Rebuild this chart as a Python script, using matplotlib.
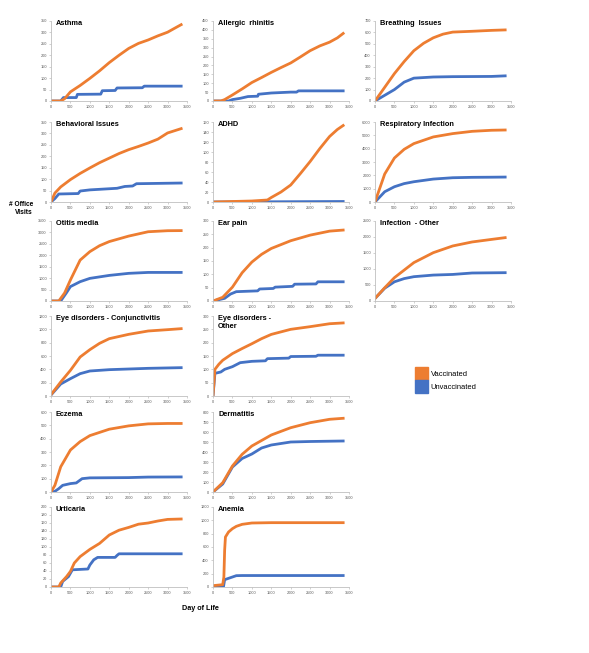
import matplotlib.pyplot as plt
from matplotlib.patches import Patch

plt.rcParams['font.family'] = ['Liberation Sans', 'DejaVu Sans']

VAX_COLOR = '#ED7D31'
UNVAX_COLOR = '#4472C4'

# (day of life, cumulative office visits)
asthma_vax = [(0, 0), (250, 0), (350, 10), (500, 40), (750, 68), (1000, 99), (1250, 132), (1500, 168),
              (1750, 200), (2000, 230), (2250, 252), (2500, 267), (2750, 285), (3000, 301), (3200, 320), (3350, 334)]
asthma_unv = [(0, 0), (250, 0), (320, 15), (650, 15), (680, 29), (1280, 30), (1320, 45), (1650, 46),
              (1700, 57), (2350, 58), (2400, 65), (3350, 65)]

allergic_vax = [(0, 0), (200, 0), (300, 8), (500, 34), (750, 68), (1000, 104), (1250, 132), (1500, 161),
                (1750, 188), (2000, 214), (2250, 248), (2500, 283), (2750, 310), (3000, 331), (3200, 355), (3350, 380)]
allergic_unv = [(0, 0), (400, 0), (500, 8), (700, 15), (900, 25), (1150, 27), (1170, 38), (1500, 45),
                (2000, 50), (2150, 50), (2200, 57), (3350, 57)]

breathing_vax = [(0, 0), (250, 120), (500, 240), (750, 345), (1000, 440), (1250, 505), (1500, 553),
                 (1750, 585), (2000, 603), (2500, 610), (3000, 618), (3350, 622)]
breathing_unv = [(0, 0), (250, 50), (500, 100), (750, 165), (1000, 200), (1500, 210), (2000, 213),
                 (3000, 215), (3350, 220)]

behavioral_vax = [(0, 0), (100, 39), (250, 66), (500, 98), (750, 125), (1000, 149), (1250, 172), (1500, 192),
                  (1750, 212), (2000, 229), (2250, 243), (2500, 258), (2750, 275), (3000, 302), (3350, 321)]
behavioral_unv = [(0, 0), (100, 15), (200, 35), (700, 37), (750, 48), (1000, 53), (1500, 58), (1700, 60),
                  (1900, 68), (2100, 70), (2200, 80), (3350, 83)]

adhd_vax = [(0, 0), (1000, 2), (1400, 4), (1500, 9), (1750, 20), (2000, 34), (2250, 57), (2500, 81),
            (2750, 107), (3000, 131), (3200, 145), (3350, 153)]
adhd_unv = [(0, 0), (3350, 1)]

resp_vax = [(0, 0), (250, 2100), (500, 3300), (750, 3950), (1000, 4380), (1500, 4880), (2000, 5130),
            (2500, 5300), (3000, 5380), (3350, 5400)]
resp_unv = [(0, 0), (250, 770), (500, 1145), (750, 1380), (1000, 1520), (1500, 1720), (2000, 1820),
            (2500, 1850), (3000, 1860), (3350, 1870)]

otitis_vax = [(0, 0), (200, 0), (350, 350), (500, 920), (750, 1790), (1000, 2160), (1250, 2420),
              (1500, 2600), (2000, 2840), (2500, 3030), (3000, 3075), (3350, 3080)]
otitis_unv = [(0, 0), (250, 0), (400, 365), (500, 630), (750, 845), (1000, 990), (1500, 1120),
              (2000, 1210), (2500, 1250), (3350, 1250)]

earpain_vax = [(0, 0), (250, 14), (500, 52), (750, 106), (1000, 146), (1250, 175), (1500, 197),
               (2000, 226), (2500, 247), (3000, 262), (3350, 266)]
earpain_unv = [(0, 0), (300, 10), (450, 26), (600, 35), (1150, 38), (1200, 45), (1550, 47), (1600, 52),
               (2050, 55), (2100, 63), (2650, 64), (2700, 72), (3350, 72)]

infect_vax = [(0, 80), (250, 415), (500, 730), (1000, 1200), (1500, 1510), (2000, 1720), (2500, 1845),
              (3000, 1925), (3350, 1980)]
infect_unv = [(0, 80), (250, 400), (500, 600), (750, 700), (1000, 760), (1500, 810), (2000, 830),
              (2500, 875), (3350, 885)]

conj_vax = [(0, 20), (250, 210), (500, 385), (750, 585), (1000, 695), (1250, 790), (1500, 860),
            (2000, 925), (2500, 975), (3000, 995), (3350, 1010)]
conj_unv = [(0, 15), (250, 180), (500, 260), (750, 335), (1000, 375), (1500, 395), (2000, 405),
            (2500, 415), (3350, 425)]

eyeother_vax = [(0, 0), (50, 100), (150, 119), (250, 134), (500, 159), (750, 178), (1000, 196),
                (1250, 215), (1500, 231), (2000, 250), (2500, 260), (3000, 271), (3350, 274)]
eyeother_unv = [(0, 0), (50, 85), (200, 90), (300, 100), (500, 110), (700, 125), (1000, 130), (1350, 132),
                (1400, 140), (1950, 142), (2000, 148), (2650, 149), (2700, 153), (3350, 153)]

eczema_vax = [(0, 0), (100, 50), (250, 189), (500, 315), (750, 378), (1000, 423), (1500, 471),
              (2000, 496), (2500, 511), (3000, 514), (3350, 514)]
eczema_unv = [(0, 0), (100, 5), (200, 25), (300, 50), (500, 63), (650, 68), (800, 100), (1000, 106),
              (2000, 108), (2500, 112), (3350, 113)]

derm_vax = [(0, 0), (250, 93), (500, 260), (750, 377), (1000, 460), (1500, 570), (2000, 643),
            (2500, 693), (3000, 727), (3350, 737)]
derm_unv = [(0, 0), (250, 80), (500, 250), (750, 335), (1000, 380), (1250, 440), (1500, 470),
            (2000, 500), (2500, 505), (3350, 510)]

urt_vax = [(0, 0), (200, 0), (250, 10), (400, 26), (500, 39), (600, 60), (750, 76), (1000, 94),
           (1250, 109), (1500, 130), (1750, 142), (2000, 149), (2250, 157), (2500, 160), (2750, 165),
           (3000, 169), (3350, 170)]
urt_unv = [(0, 0), (250, 0), (300, 14), (450, 26), (550, 43), (950, 45), (1000, 55), (1100, 68),
           (1200, 74), (1650, 74), (1700, 79), (1750, 83), (3350, 83)]

anemia_vax = [(0, 20), (250, 35), (280, 150), (300, 555), (320, 750), (400, 825), (500, 875), (600, 910),
              (750, 940), (1000, 960), (1500, 965), (3350, 965)]
anemia_unv = [(0, 0), (270, 5), (300, 110), (400, 130), (500, 150), (600, 170), (750, 172), (3350, 172)]

# title, vaccinated, unvaccinated, y max, y step, row, col
panels = [
    ('Asthma', asthma_vax, asthma_unv, 350, 50, 0, 0),
    ('Allergic  rhinitis', allergic_vax, allergic_unv, 450, 50, 0, 1),
    ('Breathing  Issues', breathing_vax, breathing_unv, 700, 100, 0, 2),
    ('Behavioral Issues', behavioral_vax, behavioral_unv, 350, 50, 1, 0),
    ('ADHD', adhd_vax, adhd_unv, 160, 20, 1, 1),
    ('Respiratory Infection', resp_vax, resp_unv, 6000, 1000, 1, 2),
    ('Otitis media', otitis_vax, otitis_unv, 3500, 500, 2, 0),
    ('Ear pain', earpain_vax, earpain_unv, 300, 50, 2, 1),
    ('Infection  - Other', infect_vax, infect_unv, 2500, 500, 2, 2),
    ('Eye disorders - Conjunctivitis', conj_vax, conj_unv, 1200, 200, 3, 0),
    ('Eye disorders -\nOther', eyeother_vax, eyeother_unv, 300, 50, 3, 1),
    ('Eczema', eczema_vax, eczema_unv, 600, 100, 4, 0),
    ('Dermatitis', derm_vax, derm_unv, 800, 100, 4, 1),
    ('Urticaria', urt_vax, urt_unv, 200, 20, 5, 0),
    ('Anemia', anemia_vax, anemia_unv, 1200, 200, 5, 1),
]

W, H = 589, 653
COL_LEFT = [51, 213, 375]
ROW_TOP = [21, 122, 221, 316, 412, 507]
AX_W, AX_H = 136, 80

fig = plt.figure(figsize=(W / 100, H / 100), dpi=100)

for title, vax, unv, ymax, ystep, r, c in panels:
    ax = fig.add_axes([COL_LEFT[c] / W, 1 - (ROW_TOP[r] + AX_H) / H, AX_W / W, AX_H / H])
    for series, color in ((unv, UNVAX_COLOR), (vax, VAX_COLOR)):
        days, visits = zip(*series)
        ax.plot(days, visits, color=color, lw=2.0)
    ax.set_xlim(0, 3500)
    ax.set_ylim(0, ymax)
    ax.set_xticks(range(0, 3501, 500))
    ax.set_yticks(range(0, ymax + 1, ystep))
    for side in ('top', 'right'):
        ax.spines[side].set_visible(False)
    for side in ('left', 'bottom'):
        ax.spines[side].set_color('#BFBFBF')
        ax.spines[side].set_linewidth(0.6)
    ax.tick_params(labelsize=2.8, length=1.5, width=0.5, color='#BFBFBF',
                   labelcolor='#595959', pad=1.5)
    ax.text(5 / AX_W, 1 + 1 / AX_H, title, transform=ax.transAxes, ha='left', va='top',
            fontsize=5.3, fontweight='bold', linespacing=1.25)

fig.text(33 / W, 1 - 209 / H, '# Office\nVisits', ha='right', va='center',
         fontsize=4.8, fontweight='bold', multialignment='right')
fig.text(200 / W, 1 - 608 / H, 'Day of Life', ha='center', va='center',
         fontsize=5.2, fontweight='bold')

handles = [Patch(color=VAX_COLOR), Patch(color=UNVAX_COLOR)]
fig.legend(handles, ['Vaccinated', 'Unvaccinated'], loc='upper left',
           bbox_to_anchor=(415 / W, 1 - 367 / H), frameon=False, fontsize=5.4,
           handlelength=1.7, handleheight=2.3, labelspacing=0.05, handletextpad=0.4,
           borderpad=0, borderaxespad=0)

fig.savefig('out.png', dpi=100)
